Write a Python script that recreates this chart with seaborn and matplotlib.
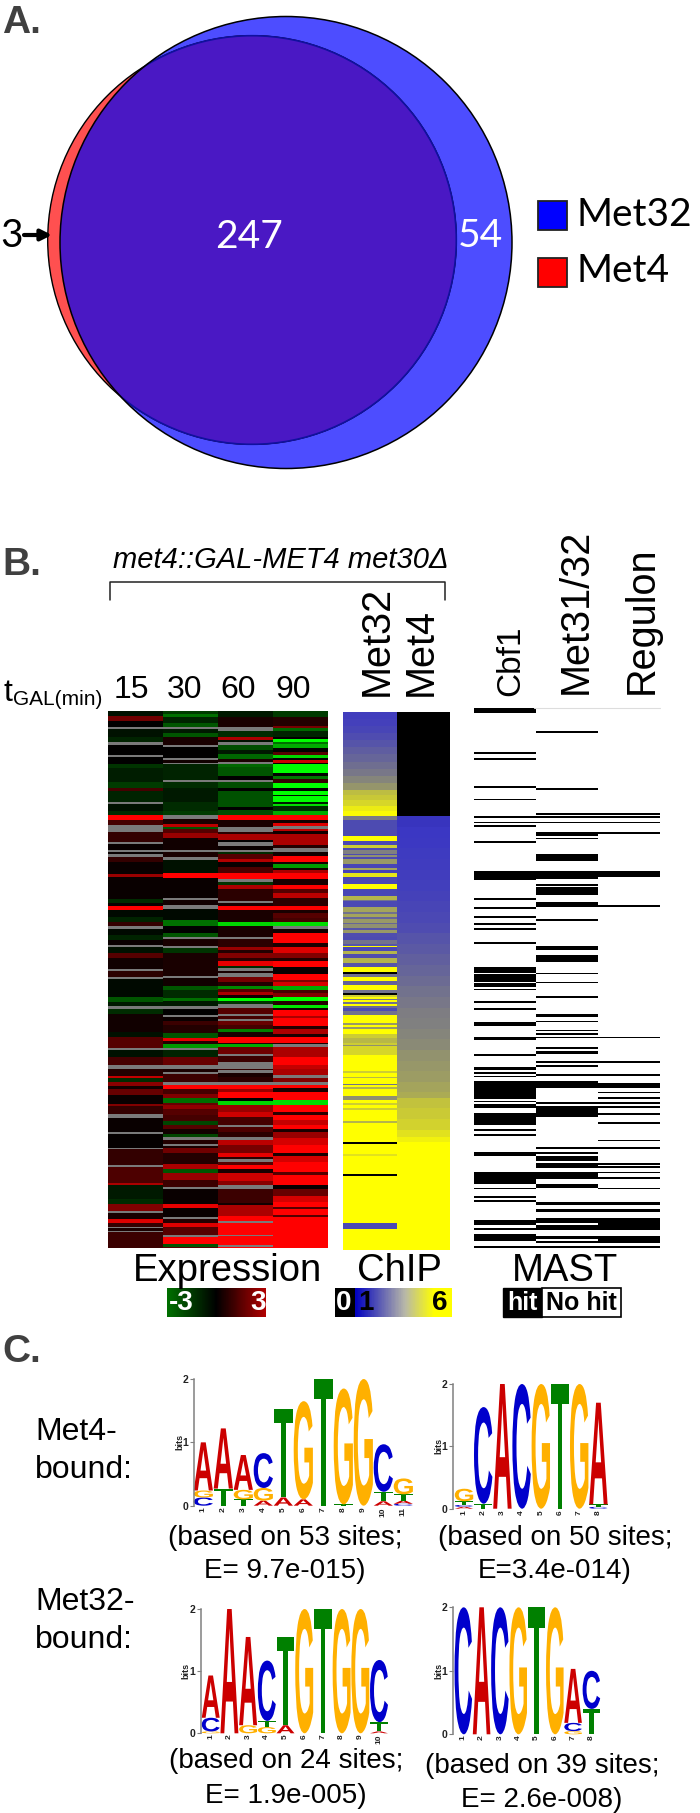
import numpy as np
import matplotlib
matplotlib.use("Agg")
import matplotlib.pyplot as plt
import seaborn as sns
from matplotlib.colors import LinearSegmentedColormap
from matplotlib.font_manager import FontProperties
from matplotlib.patches import Circle, PathPatch, Rectangle
from matplotlib.textpath import TextPath
from matplotlib.transforms import Affine2D

G = np.nan  # grey cells in the expression heatmap (no data)

# ---- Venn counts and legend
VENN_COUNTS = ["3", "247", "54"]
VENN_NAMES = ["Met32", "Met4"]

# ---- Expression heatmap, one list of (band end, log ratio) per scan of the picture
TIMES = ["15", "30", "60", "90"]
SCAN_OFFSETS = [-18, 522, 1062]
SCAN_TOTAL = 1611

EXPR_15 = [
    [(32, -.2), (48, 1.3), (66, 0), (72, G), (95, -.2), (112, -.4), (119, G), (150, 0), (155, G), (178, 0),
     (190, -.6), (232, -.35), (248, -.7), (258, .8), (290, -.4), (297, G), (318, -.2), (330, -.5), (344, 3),
     (360, .8), (375, G), (382, G), (410, .6), (417, G), (435, .1), (441, G), (447, .1), (455, G), (472, .6),
     (507, .1), (515, 1.8), (555, .1)],
    [(42, .1), (55, -.5), (62, .1), (75, 3), (95, -.1), (110, -.4), (124, .6), (133, G), (150, -.1), (165, -.4),
     (180, .1), (186, G), (205, -.2), (218, 1), (252, .2), (258, G), (276, .5), (281, G), (335, -.1), (350, -1),
     (363, -.3), (372, G), (385, -.5), (440, .2), (455, -.2), (487, 1), (495, G), (515, -.2), (543, .8), (555, G)],
    [(10, G), (32, .4), (38, 2.3), (50, -.5), (62, 1.6), (70, .2), (90, 1.2), (115, .1), (122, 1.5), (147, .6),
     (158, G), (200, .1), (206, G), (247, .05), (252, G), (298, .6), (304, G), (352, .9), (360, 2), (400, -.3),
     (415, -.5), (437, 1.5), (442, G), (460, .3), (472, 2.6), (485, .6), (489, G), (497, .3), (501, G), (550, .7)],
]
EXPR_30 = [
    [(27, -.7), (37, -1.3), (55, -.4), (65, -1), (73, G), (85, -.3), (95, -1), (119, .3), (126, G), (158, 0),
     (165, G), (173, .2), (178, G), (225, -.4), (232, G), (250, -.5), (290, -.3), (318, -.5), (330, -.7), (343, G),
     (356, .3), (365, 2.2), (372, -1), (385, 1), (400, 1.8), (434, .2), (440, G), (456, .3), (464, G), (505, -.2),
     (520, 3), (555, .1)],
    [(38, .1), (44, G), (60, .2), (72, G), (105, -.1), (122, -1.3), (145, 0), (155, -1), (161, G), (183, .3),
     (190, G), (205, -.6), (273, .3), (279, G), (303, .2), (315, -1), (338, -.5), (348, -1.3), (363, -.3), (371, G),
     (388, 0), (395, G), (408, .1), (420, .7), (442, .4), (458, -1), (467, 2.7), (476, .4), (488, -1.8), (495, G),
     (515, -.4), (543, 1.2), (555, G)],
    [(12, G), (20, .3), (26, G), (50, .7), (58, G), (72, 3), (85, .8), (97, 1.5), (112, -1.3), (120, 1.2), (130, 1.7),
     (148, 1), (168, .8), (178, -.8), (190, 1), (205, .2), (216, -.8), (224, G), (235, .4), (241, G), (248, .3),
     (262, 1.3), (295, .4), (312, 2), (322, -1), (345, 1.8), (365, .7), (371, G), (415, .1), (428, 2.7), (456, .1),
     (462, G), (472, .4), (486, 2.6), (508, 1), (514, G), (535, 3), (545, -1), (550, 1)],
]
EXPR_60 = [
    [(35, -.3), (66, .3), (78, G), (95, -.5), (104, 2), (111, -.2), (120, G), (135, -.9), (148, -.3), (162, -1.2),
     (172, .3), (178, G), (186, -1.2), (214, -1), (225, 0), (232, G), (250, -.9), (258, 0), (305, -.95), (316, 0),
     (330, -.9), (346, 3), (365, .3), (380, G), (388, .5), (404, 2), (410, 0), (424, G), (434, .1), (441, G),
     (448, -.5), (463, 1), (472, 2.1), (487, .1), (505, .9), (522, 3), (531, G), (544, -.6), (555, 2)],
    [(12, 2), (47, .5), (55, G), (62, .3), (76, 3), (110, .3), (123, -2.5), (156, .3), (162, G), (185, .5), (195, 1.8),
     (205, .4), (218, 1.5), (228, .5), (242, 2.7), (250, -.5), (257, G), (263, .3), (275, G), (290, 1.4), (303, .4),
     (313, -1.6), (320, 1), (330, 2), (338, .2), (348, -3), (358, -.6), (370, G), (385, 1), (393, G), (400, .8),
     (406, G), (420, 1.2), (432, .8), (440, -1.5), (455, .3), (472, 3), (476, .3), (485, -2), (507, 1.3), (513, G),
     (530, .7), (555, G)],
    [(10, G), (14, .6), (22, G), (35, .3), (50, .5), (58, G), (70, 3), (80, 1.8), (97, 3), (108, 0), (118, -2.5),
     (140, 1.8), (155, 2.4), (178, .8), (185, G), (200, .9), (216, .5), (224, G), (240, 2.2), (262, 1.4), (275, 2.7),
     (282, .5), (290, G), (298, 1), (312, 3), (322, .3), (346, 2.4), (360, 1.6), (372, G), (413, .7), (420, .2),
     (452, 2), (466, 3), (472, G), (508, 3), (513, G), (538, 3), (544, G), (550, 3)],
]
EXPR_90 = [
    [(35, -.7), (62, .4), (70, 1.4), (78, -1.2), (95, -.4), (103, 0), (112, -3), (118, -1.3), (130, -2), (140, 0),
     (150, 1), (160, -2.5), (165, 0), (174, 2.4), (178, 0), (204, -3), (212, 0), (222, -1.4), (235, .6), (250, -3),
     (258, 0), (270, -3), (274, -.1), (292, -3), (298, -.3), (304, -2.6), (318, -.5), (330, -2), (346, 3), (354, .2),
     (362, 2.6), (372, G), (378, 2.2), (388, .2), (420, 2), (428, .4), (440, G), (452, .2), (472, 3), (476, .2),
     (488, -1.8), (496, .2), (503, 2), (522, 3), (545, .3), (555, 3)],
    [(12, 3), (25, 1), (38, 2.2), (62, .5), (76, 3), (84, .3), (100, 1), (110, .8), (124, -2.6), (132, G), (145, .2),
     (175, 3), (185, .3), (205, 2.6), (218, 1.5), (228, .4), (245, 3), (268, .1), (285, 3), (292, 1.5), (302, 2.5),
     (314, -2), (324, .8), (335, 1.5), (348, -3), (360, .4), (368, -2.7), (375, .2), (392, 3), (398, 2), (423, 3),
     (432, .4), (445, 2), (455, .3), (472, 3), (476, .3), (484, G), (515, 2), (555, 3)],
    [(12, 2.3), (30, 2), (38, G), (50, 1.5), (58, G), (68, 3), (80, .3), (105, 3), (118, -2.6), (140, 3), (148, .5),
     (165, 3), (178, 2.3), (192, 3), (200, .3), (218, 1.8), (240, 2.5), (262, 3), (272, .3), (290, 2.5), (320, 3),
     (330, 1), (358, 3), (372, .1), (392, 1.2), (410, 2.5), (425, 3), (430, 1), (450, 3), (455, 1), (550, 3)],
]

# ---- ChIP columns, (row end, enrichment) for 304 genes
CHIP_MET32 = [
    (4, 1.25), (8, 1.35), (12, 1.5), (16, 1.75), (20, 2), (24, 2.3), (28, 2.6), (32, 2.9), (36, 3.2), (40, 3.6),
    (44, 3.9), (47, 4.7), (50, 4.9), (53, 5.2), (56, 5.6), (59, 5.9), (61, 3.3), (70, 1.7), (73, 6), (75, 1.6),
    (77, 5), (78, 1.7), (80, 3.5), (81, 1.7), (82, 3.8), (83, 1.7), (86, 4), (88, 1.5), (89, 4.2), (91, 1.4),
    (93, 5.5), (97, 1.6), (100, 6), (104, 1.5), (106, 4.5), (107, 3), (110, 1.6), (113, 4.2), (114, 3), (116, 4.2),
    (117, 2.6), (119, 4), (120, 2.6), (122, 3.8), (123, 2), (125, 4), (127, 1.8), (129, 1.7), (131, 3), (132, 2),
    (133, 6), (135, 1.6), (137, 4.5), (139, 1.8), (142, 4.5), (144, 2), (147, 6), (148, 0), (150, 3), (152, 6),
    (154, 2.5), (157, 6), (159, 3), (160, 0), (161, 5), (162, 6), (163, 3), (164, 6), (165, 3), (166, 6), (167, 2.8),
    (169, 1.7), (171, 3), (176, 6), (177, 4), (178, 6), (179, 4), (182, 6), (184, 5), (187, 4.6), (188, 5), (189, 3.8),
    (194, 5.2), (203, 6), (204, 5), (206, 6), (207, 4.6), (210, 6), (211, 3), (212, 6), (213, 4.5), (217, 6), (219, 3.8),
    (221, 6), (222, 5), (224, 6), (225, 5), (231, 6), (232, 4.5), (243, 6), (244, .3), (250, 6), (251, 5.4), (261, 6),
    (262, .6), (289, 6), (292, 1.6), (304, 6),
]
CHIP_MET4 = [
    (59, 0), (65, 1), (71, 1.05), (77, 1.1), (83, 1.15), (89, 1.2), (95, 1.25), (101, 1.3), (107, 1.4), (113, 1.5),
    (119, 1.6), (125, 1.75), (131, 2), (137, 2.2), (143, 2.4), (149, 2.6), (155, 2.8), (161, 3), (167, 3.2), (173, 3.4),
    (179, 3.5), (185, 3.6), (191, 3.7), (197, 3.85), (203, 3.95), (209, 4.05), (215, 4.2), (218, 4.35), (224, 4.8),
    (230, 4.95), (236, 5.1), (240, 5.4), (243, 5.7), (304, 6),
]

# ---- MAST hits, (first row, end row)
MAST_CBF1 = [
    (0, 3), (25, 26), (28, 29), (44, 45), (51, 52), (61, 62), (64, 65), (66, 67), (75, 76), (92, 97), (107, 108),
    (112, 113), (117, 118), (121, 122), (124, 125), (132, 133), (146, 149), (150, 154), (155, 157), (158, 159),
    (165, 166), (169, 170), (177, 179), (185, 187), (195, 196), (202, 204), (205, 206), (207, 208), (210, 220),
    (221, 222), (223, 225), (228, 235), (237, 238), (240, 241), (250, 252), (261, 268), (270, 271), (275, 276),
    (277, 278), (288, 291), (293, 294), (296, 300), (303, 304),
]
MAST_MET3132 = [
    (13, 14), (45, 46), (59, 60), (61, 62), (64, 65), (70, 72), (73, 74), (82, 86), (92, 96), (99, 100), (101, 105),
    (109, 112), (119, 120), (134, 136), (139, 143), (149, 150), (154, 155), (162, 163), (172, 174), (176, 177),
    (181, 182), (183, 184), (185, 186), (191, 192), (193, 195), (199, 200), (201, 202), (206, 207), (210, 214),
    (222, 223), (224, 230), (247, 248), (250, 251), (252, 255), (256, 259), (261, 265), (268, 270), (278, 280),
    (282, 284), (287, 290), (291, 294), (297, 299), (300, 301), (303, 304),
]
MAST_REGULON = [
    (59, 60), (61, 62), (64, 65), (70, 71), (92, 95), (111, 112), (185, 186), (199, 200), (206, 207), (211, 214),
    (216, 217), (219, 220), (222, 223), (224, 225), (228, 229), (233, 234), (243, 244), (247, 248), (256, 257),
    (258, 259), (261, 262), (264, 265), (270, 271), (278, 280), (282, 284), (287, 294), (297, 301), (303, 304),
]

# ---- Sequence logos: per position the stack from the bottom up (letter, bits)
LOGO_MET4_A = [
    [("C", .13), ("G", .11), ("A", .76)], [("T", .27), ("A", .95)], [("T", .1), ("G", .15), ("A", .55)],
    [("A", .08), ("G", .2), ("C", .55)], [("A", .13), ("T", 1.4)], [("A", .1), ("G", 1.55)], [("T", 2)],
    [("T", .02), ("G", 1.83)], [("G", 2)], [("A", .07), ("T", .15), ("C", .75)],
    [("C", .03), ("A", .05), ("T", .1), ("G", .25)],
]
LOGO_MET4_B = [
    [("A", .03), ("C", .03), ("T", .06), ("G", .2)], [("T", .08), ("C", 1.55)], [("A", 2)], [("C", 2)], [("G", 2)],
    [("T", 2)], [("G", 2)], [("C", .03), ("T", .04), ("A", 1.63)],
]
LOGO_MET32_A = [
    [("G", .03), ("C", .22), ("A", .68)], [("A", 2)], [("G", .13), ("A", 1.42)], [("G", .1), ("T", .1), ("C", .97)],
    [("A", .13), ("T", 1.42)], [("G", 2)], [("T", 2)], [("G", 2)], [("G", 2)], [("A", .03), ("T", .15), ("C", 1)],
]
LOGO_MET32_B = [
    [("C", 2)], [("A", 2)], [("C", 2)], [("G", 2)], [("T", 2)], [("G", 2)], [("G", .05), ("C", .13), ("A", .85)],
    [("T", .4), ("C", .6)],
]
LOGO_CAPTIONS = [
    ("(based on 53 sites;", "E= 9.7e-015)"), ("(based on 50 sites;", "E=3.4e-014)"),
    ("(based on 24 sites;", "E= 1.9e-005)"), ("(based on 39 sites;", "E= 2.6e-008)"),
]
LETTER_COLORS = {"A": "#cc0000", "C": "#0000cc", "G": "#ffb000", "T": "#008000"}

W, H = 700, 1813
sns.set_theme(style="white")
plt.rcParams["font.family"] = ["Liberation Sans", "DejaVu Sans"]
fig = plt.figure(figsize=(W / 100, H / 100), dpi=100, facecolor="white")


def px_axes(left, top, right, bottom, **kw):
    return fig.add_axes([left / W, 1 - bottom / H, (right - left) / W, (bottom - top) / H], **kw)


def fill_bands(bands, n):
    col = np.zeros(n)
    start = 0
    for stop, val in bands:
        col[start:stop] = val
        start = stop
    return col


def expression_column(scans):
    col = np.zeros(SCAN_TOTAL)
    for offset, bands in zip(SCAN_OFFSETS, scans):
        start = max(offset + 18 if offset < 0 else offset, 0)
        for stop, val in bands:
            col[start:offset + stop] = val
            start = offset + stop
    return col


def hit_column(hits, n=304):
    col = np.zeros(n)
    for a, b in hits:
        col[a:b] = 1
    return col


def plain_heatmap(data, cmap, vmin, vmax, box):
    ax = px_axes(*box)
    sns.heatmap(data, cmap=cmap, vmin=vmin, vmax=vmax, cbar=False, xticklabels=False, yticklabels=False, ax=ax)
    return ax


def draw_logo(stacks, axis_x, first_x, step, y2, y0):
    n = len(stacks)
    right = first_x + step * (n - .5)
    ax = px_axes(axis_x, y2, right, y0)
    ax.set_xlim(1 - (first_x - axis_x) / step, n + .5)
    ax.set_ylim(0, 2)
    ax.patch.set_alpha(0)
    fp = FontProperties(family="Liberation Sans", weight="bold")
    for i, stack in enumerate(stacks, start=1):
        bottom = 0
        for ch, bits in stack:
            path = TextPath((0, 0), ch, size=1, prop=fp)
            bb = path.get_extents()
            tr = Affine2D().translate(-bb.x0, -bb.y0).scale(.96 / bb.width, bits / bb.height)
            tr = tr.translate(i - .48, bottom)
            ax.add_patch(PathPatch(path.transformed(tr), fc=LETTER_COLORS[ch], lw=0, clip_on=False))
            bottom += bits
    ax.set_xticks(range(1, n + 1))
    ax.set_xticklabels(range(1, n + 1), rotation=90, fontsize=6, fontweight="bold", color="#222222")
    ax.set_yticks([0, 1, 2])
    ax.set_yticklabels(["0", "1", "2"], fontsize=7.5, fontweight="bold", color="#222222")
    ax.tick_params(axis="x", length=0, pad=1)
    ax.tick_params(axis="y", left=True, length=3, width=.8, color="#808080", pad=1)
    ax.set_ylabel("bits", fontsize=6.5, fontweight="bold", labelpad=-1, color="#222222")
    sns.despine(ax=ax, bottom=True)
    ax.spines["left"].set_color("#808080")
    ax.spines["left"].set_linewidth(1.1)


# ---- B: heatmaps
red_green = LinearSegmentedColormap.from_list("rg", ["#00ff00", "#000000", "#ff0000"])
red_green.set_under("#7a7a7a")
chip_cmap = LinearSegmentedColormap.from_list(
    "chip", [(0, "#000000"), (.1, "#000000"), (1 / 6, "#3a36c4"), (3.5 / 6, "#808080"), (1, "#ffff00")])

expr = np.column_stack([expression_column(c) for c in (EXPR_15, EXPR_30, EXPR_60, EXPR_90)])
# no-data cells go through the colormap's under colour
plain_heatmap(np.nan_to_num(expr, nan=-99), red_green, -3, 3, (108.3, 711, 327.7, 1248.3))

chip = np.column_stack([fill_bands(CHIP_MET32, 304), fill_bands(CHIP_MET4, 304)])
plain_heatmap(chip, chip_cmap, 0, 6, (343.3, 712, 450.3, 1250))

mast = np.column_stack([hit_column(MAST_CBF1), hit_column(MAST_MET3132), hit_column(MAST_REGULON)])
plain_heatmap(mast, ["#ffffff", "#000000"], 0, 1, (473.7, 708, 660, 1248))

# ---- B: small colour keys
key = np.linspace(0, 1, 200)[None, :]
plain_heatmap(key, LinearSegmentedColormap.from_list("k1", ["#007000", "#000000", "#b00000"]),
              0, 1, (167, 1288, 265.6, 1317))
plain_heatmap(key, LinearSegmentedColormap.from_list(
    "k2", [(0, "#000000"), (.17, "#000000"), (.171, "#0000c0"), (.6, "#b8b8a8"), (.85, "#ffff00"), (1, "#ffff00")]),
    0, 1, (335, 1288, 452, 1317))

# ---- C: logos
draw_logo(LOGO_MET4_A, 194, 203.3, 20, 1379, 1505.7)
draw_logo(LOGO_MET4_B, 453, 464, 19.2, 1384, 1508.7)
draw_logo(LOGO_MET32_A, 200.7, 210.7, 18.7, 1609, 1733.3)
draw_logo(LOGO_MET32_B, 453, 463.3, 18.3, 1607.3, 1734.3)

# ---- overlay in picture pixels for the venn and all labels
ov = fig.add_axes([0, 0, 1, 1], zorder=10)
ov.set_xlim(0, W)
ov.set_ylim(H, 0)
ov.axis("off")
ov.patch.set_alpha(0)

blue = Circle((286, 242.5), 226, fc="#4d4dff", ec="none")
ov.add_patch(blue)
ov.add_patch(Circle((252, 240), 204.3, fc="#ff5050", ec="black", lw=1))
overlap = Circle((252, 240), 204.3, fc="#4a18c4", ec="#1010a0", lw=1.2)
ov.add_patch(overlap)
overlap.set_clip_path(Circle((286, 242.5), 226, transform=ov.transData))
ov.add_patch(Circle((286, 242.5), 226, fc="none", ec="black", lw=1.1))

venn_font = {"family": "Lato", "va": "center", "ha": "center"}
ov.text(12, 236, VENN_COUNTS[0], fontsize=28, color="black", **venn_font)
ov.text(249, 237, VENN_COUNTS[1], fontsize=28, color="white", **venn_font)
ov.text(480, 236, VENN_COUNTS[2], fontsize=28, color="white", **venn_font)
ov.annotate("", xy=(52, 235), xytext=(24, 235),
            arrowprops=dict(arrowstyle="-|>", color="black", lw=3, mutation_scale=16, shrinkA=0, shrinkB=0))
for name, fc, top, bottom in zip(VENN_NAMES, ["#0000ff", "#ff0000"], [201, 258], [230, 287]):
    ov.add_patch(Rectangle((538, top), 29, bottom - top, fc=fc, ec="#222222", lw=1.3))
    ov.text(576, (top + bottom) / 2 - 1, name, fontsize=28, family="Lato", va="center", ha="left", color="black")

for s, y in zip(["A.", "B.", "C."], [33, 575, 1362]):
    ov.text(2, y, s, fontsize=28, fontweight="bold", color="#404040", va="baseline", ha="left")

ov.text(113, 568, "met4::GAL-MET4 met30\u0394", fontsize=21, style="italic", va="baseline", ha="left", color="black")
ov.plot([110, 110, 445, 445], [600, 582, 582, 600], color="#222222", lw=1.1)

ov.text(3, 701, "t", fontsize=23, va="baseline", ha="left", color="black")
ov.text(13, 705, "GAL(min)", fontsize=15, va="baseline", ha="left", color="black")
for t, x in zip(TIMES, [131.7, 185, 238, 293]):
    ov.text(x, 698, t, fontsize=23, va="baseline", ha="center", color="black")

rot_labels = [("Met32", 388, 696, 28.5), ("Met4", 432, 696, 28.5), ("Cbf1", 519, 696, 24),
              ("Met31/32", 587, 694, 28.5), ("Regulon", 653, 694, 28.5)]
for s, x, y, size in rot_labels:
    ov.text(x, y, s, fontsize=size, rotation=90, rotation_mode="anchor", va="baseline", ha="left", color="black")
ov.plot([534, 660], [708, 708], color="#dddddd", lw=.8)

for s, x in [("Expression", 228), ("ChIP", 399), ("MAST", 565)]:
    ov.text(x, 1281, s, fontsize=27.5, va="baseline", ha="center", color="black")

key_font = {"fontsize": 20, "fontweight": "bold", "va": "center", "ha": "center"}
ov.text(181, 1303, "-3", color="white", **key_font)
ov.text(258, 1303, "3", color="white", **key_font)
ov.text(344, 1303, "0", color="white", **key_font)
ov.text(366, 1303, "1", color="black", **key_font)
ov.text(440, 1303, "6", color="black", **key_font)
ov.add_patch(Rectangle((503, 1288), 38.5, 29, fc="black", ec="black", lw=1))
ov.add_patch(Rectangle((541.5, 1288), 79, 29, fc="white", ec="black", lw=1.2))
ov.text(522, 1303, "hit", color="white", fontsize=18, fontweight="bold", va="center", ha="center")
ov.text(581, 1303, "No hit", color="black", fontsize=18, fontweight="bold", va="center", ha="center")

for s, y in [("Met4-", 1440), ("bound:", 1478), ("Met32-", 1610), ("bound:", 1648)]:
    ov.text(35, y, s, fontsize=23, va="baseline", ha="left", color="black")

for (first, second), x, y1, y2 in zip(LOGO_CAPTIONS, [285, 555, 286, 542], [1545, 1545, 1768, 1773], [1578, 1578, 1803, 1807]):
    ov.text(x, y1, first, fontsize=20, va="baseline", ha="center", color="black")
    ov.text(x, y2, second, fontsize=20, va="baseline", ha="center", color="black")

fig.savefig("out.png", dpi=100)
